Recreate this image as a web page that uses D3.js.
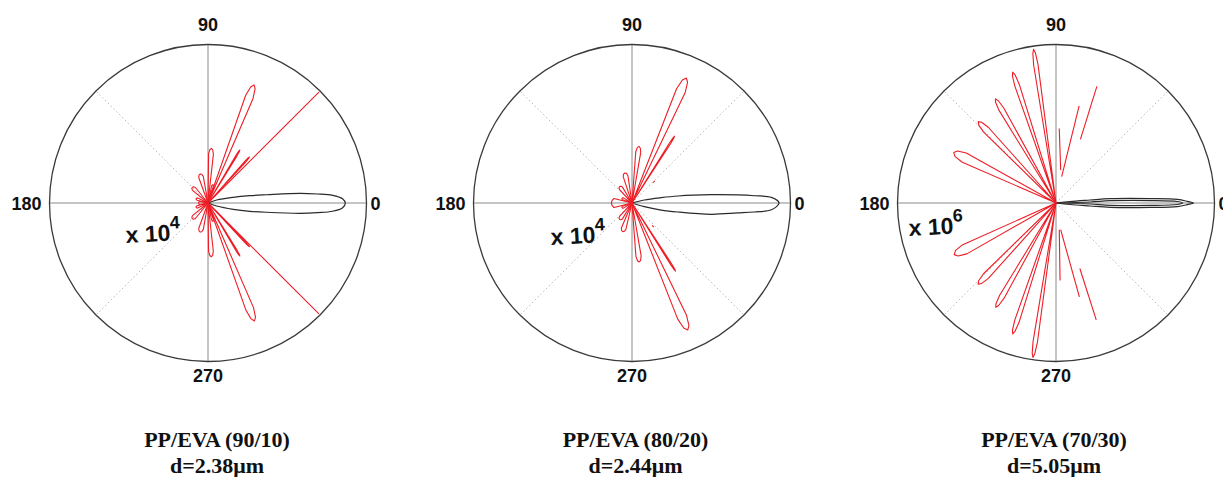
<!DOCTYPE html>
<html>
<head>
<meta charset="utf-8">
<script src="https://cdn.jsdelivr.net/npm/d3@7"></script>
<style>
  body { margin: 0; background: #fff; }
  svg { display: block; }
</style>
</head>
<body>
<div id="chart"></div>
<script>
// texts under each polar plot
var panelTitles = ["PP/EVA (90/10)", "PP/EVA (80/20)", "PP/EVA (70/30)"];
var panelSizes = ["d=2.38μm", "d=2.44μm", "d=5.05μm"];
var scaleExponents = ["4", "4", "6"];

// angular axes (degrees)
var axisAngles = [0, 90, 180, 270];
var gridAngles = [45, 135, 225, 315];

// black lobe outlines: [angle deg, radius as fraction of outer ring]
var black1 = [[0,0],[19,0.058],[12.7,0.163],[9.9,0.268],[8.0,0.373],[6.0,0.582],[4.7,0.694],[3.5,0.788],[1.8,0.849],[0,0.866],
  [-2.0,0.850],[-3.8,0.788],[-5.0,0.695],[-6.4,0.582],[-9.0,0.374],[-11.2,0.269],[-14,0.164],[-19,0.058],[0,0]];
var black2 = [[0,0],[13.7,0.080],[10.4,0.187],[8.7,0.293],[6.0,0.503],[4.4,0.667],[3.4,0.774],[2.3,0.880],[0,0.928],
  [-2.8,0.881],[-4.2,0.774],[-5.4,0.668],[-8.1,0.505],[-11.1,0.295],[-13.6,0.189],[-16.7,0.081],[0,0]];
var black3 = [[0,0],[6.1,0.089],[5.0,0.216],[4.6,0.343],[2.7,0.596],[1.7,0.766],[0.7,0.829],[0,0.867],
  [-0.7,0.829],[-1.7,0.766],[-2.7,0.596],[-4.6,0.343],[-5.0,0.216],[-6.1,0.089],[0,0]];
var black3b = [[0,0],[1.7,0.216],[2.4,0.343],[1.5,0.596],[0.7,0.766],[0,0.80],
  [-0.7,0.766],[-1.5,0.596],[-2.4,0.343],[-1.7,0.216],[0,0]];

// red petals: [angle deg, length, half width deg]
var red1 = [[68.7,0.80,2.0],[291.5,0.80,2.0],[59,0.39,0.6],[48,0.39,0.6],[301,0.39,0.6],[313.5,0.38,0.6],
  [86.5,0.345,2.8],[273.5,0.34,2.8],[105,0.19,5],[255,0.19,5],[135,0.14,6],[225,0.14,6],
  [180,0.06,10],[160,0.08,6],[200,0.08,6],[75,0.12,3],[285,0.12,3]];
var red2 = [[66.5,0.86,2.2],[293.7,0.875,2.2],[57.5,0.50,0.5],[302.6,0.51,0.5],[83,0.36,2.8],[277,0.375,2.8],
  [103.5,0.195,5],[252,0.19,5],[127,0.13,6],[233,0.13,6],[180,0.13,14],[155,0.07,6],[205,0.07,6]];
var red3 = [[98.3,0.98,0.9],[108.3,0.87,1.1],[120.2,0.76,1.4],[133.7,0.71,1.9],[153.7,0.72,2.8],
  [206.9,0.72,2.8],[226.2,0.71,1.9],[240,0.76,1.4],[251.7,0.87,1.1],[261.5,0.985,0.9]];

// red straight pieces: [angle0, r0, angle1, r1]
var redLines1 = [[45,0,45,0.99],[315,0,315,0.99]];
var redLines2 = [[44,0.185,44,0.2],[312,0.19,312,0.205]];
var redLines3 = [[81.9,0.21,87.5,0.47],[77.8,0.17,76.6,0.63],[69,0.43,70.7,0.78],
  [277,0.17,273,0.49],[279.9,0.17,284,0.61],[290,0.44,289,0.78]];

var panels = [
  {black: [black1], red: red1, lines: redLines1},
  {black: [black2], red: red2, lines: redLines2},
  {black: [black3, black3b], red: red3, lines: redLines3}
];

var width = 1223, height = 477, R = 158.5, cy = 203;
var redColor = "#ee1d25";
// position of the "x 10^n" label relative to each centre
var expPos = [[-82, 40], [-81, 42], [-147, 33]];

var svg = d3.select("#chart").append("svg")
    .attr("width", width)
    .attr("height", height);

var px = d3.scalePoint().domain([0, 1, 2]).range([208, 1056]);
var tx = d3.scalePoint().domain([0, 1, 2]).range([217, 1054]);
var rad = d3.scaleLinear().domain([0, 1]).range([0, R]);
var ang = d3.scaleLinear().domain([0, 360]).range([Math.PI / 2, Math.PI / 2 - 2 * Math.PI]);

var smooth = d3.lineRadial()
  .angle(function(d) { return ang(d[0]); })
  .radius(function(d) { return rad(d[1]); })
  .curve(d3.curveCatmullRom);
var straight = d3.lineRadial()
  .angle(function(d) { return ang(d[0]); })
  .radius(function(d) { return rad(d[1]); });

function petalPts(p) {
  var a = p[0], L = p[1], w = p[2];
  return [[a,0],[a-w,0.9*L],[a-0.55*w,0.975*L],[a,L],[a+0.55*w,0.975*L],[a+w,0.9*L],[a,0]];
}

panels.forEach(function(pn, i) {
  var g = svg.append("g")
    .attr("transform", "translate(" + px(i) + "," + cy + ")");

  // dotted diagonals
  g.selectAll("line.diag")
    .data(gridAngles)
    .enter()
    .append("line")
      .attr("class", "diag")
      .attr("x2", function(d) { return d3.pointRadial(ang(d), R)[0]; })
      .attr("y2", function(d) { return d3.pointRadial(ang(d), R)[1]; })
      .attr("stroke", "#b8b8b8")
      .attr("stroke-width", 1)
      .attr("stroke-dasharray", "1.5,2.5");

  // solid axes
  g.selectAll("line.axis")
    .data(axisAngles)
    .enter()
    .append("line")
      .attr("class", "axis")
      .attr("x2", function(d) { return d3.pointRadial(ang(d), R)[0]; })
      .attr("y2", function(d) { return d3.pointRadial(ang(d), R)[1]; })
      .attr("stroke", "#8a8a8a")
      .attr("stroke-width", 1);

  g.append("circle")
    .attr("r", R)
    .attr("fill", "none")
    .attr("stroke", "#3a3a3a")
    .attr("stroke-width", 1.3);

  // black lobe
  g.selectAll("path.lobe")
    .data(pn.black)
    .enter()
    .append("path")
      .attr("class", "lobe")
      .attr("d", smooth)
      .attr("fill", "none")
      .attr("stroke", "#2a2a2a")
      .attr("stroke-width", 1.2);

  // red petals
  g.selectAll("path.petal")
    .data(pn.red)
    .enter()
    .append("path")
      .attr("class", "petal")
      .attr("d", function(d) { return straight(petalPts(d)); })
      .attr("fill", "none")
      .attr("stroke", redColor)
      .attr("stroke-width", 1.1)
      .attr("stroke-linejoin", "round");

  g.selectAll("path.seg")
    .data(pn.lines)
    .enter()
    .append("path")
      .attr("class", "seg")
      .attr("d", function(d) { return straight([[d[0], d[1]], [d[2], d[3]]]); })
      .attr("fill", "none")
      .attr("stroke", redColor)
      .attr("stroke-width", 1.1);

  // angle labels
  var lab = g.append("g")
    .style("font-family", "'Liberation Sans', Arial, sans-serif")
    .style("font-weight", "bold")
    .style("font-size", "18px")
    .attr("fill", "#111");
  lab.append("text").attr("x", R + 4).attr("y", 6.5).text(axisAngles[0]);
  lab.append("text").attr("y", -R - 14).attr("text-anchor", "middle").text(axisAngles[1]);
  lab.append("text").attr("x", -R - 8).attr("y", 6.5).attr("text-anchor", "end").text(axisAngles[2]);
  lab.append("text").attr("y", R + 20).attr("text-anchor", "middle").text(axisAngles[3]);

  // scale factor
  var ex = g.append("text")
    .attr("transform", "translate(" + expPos[i][0] + "," + expPos[i][1] + ") rotate(-3)")
    .style("font-family", "'Liberation Sans', Arial, sans-serif")
    .style("font-weight", "bold")
    .style("font-size", "23px")
    .attr("fill", "#111");
  ex.append("tspan").text("x 10");
  ex.append("tspan").attr("dy", -12).style("font-size", "18px").text(scaleExponents[i]);

  // titles
  var t = svg.append("g")
    .attr("transform", "translate(" + tx(i) + ",0)")
    .style("font-family", "'Liberation Serif', 'Times New Roman', serif")
    .style("font-weight", "bold")
    .style("font-size", "22px")
    .attr("text-anchor", "middle")
    .attr("fill", "#111");
  t.append("text").attr("y", 447).text(panelTitles[i]);
  t.append("text").attr("y", 473).text(panelSizes[i]);
});
</script>
</body>
</html>
